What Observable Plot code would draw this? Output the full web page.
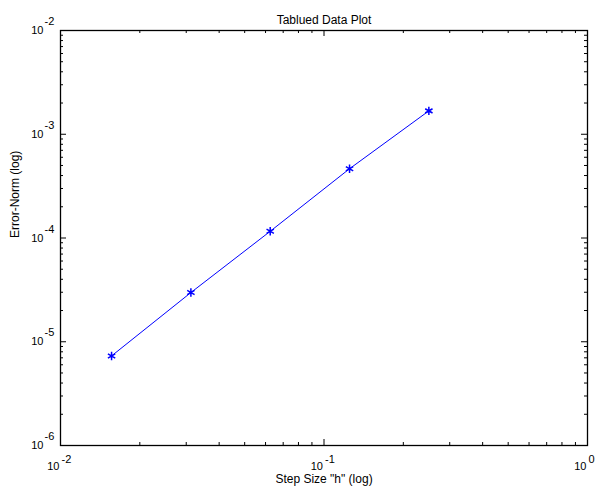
<!DOCTYPE html>
<html><head><meta charset="utf-8">
<script src="https://cdn.jsdelivr.net/npm/d3@7"></script>
<script src="https://cdn.jsdelivr.net/npm/@observablehq/plot@0.6"></script>
<style>body{margin:0;background:#fff}</style>
</head><body><div id="chart"></div>
<script>
const stepSize = [1/64, 1/32, 1/16, 1/8, 1/4];
const errorNorm = [7.3e-6, 2.98e-5, 1.16e-4, 4.65e-4, 1.68e-3];
const xMajor = [1e-2, 1e-1, 1e0];
const xExponents = ["-2", "-1", "0"];
const yMajor = [1e-6, 1e-5, 1e-4, 1e-3, 1e-2];
const yExponents = ["-6", "-5", "-4", "-3", "-2"];
const title = "Tablued Data Plot";
const xLabel = "Step Size \"h\" (log)";
const yLabel = "Error-Norm (log)";

const W = 597, H = 491, ML = 60, MR = 10, MT = 30, MB = 46;
const FW = W - ML - MR, FH = H - MT - MB;

const data = stepSize.map((h, i) => ({h, e: errorNorm[i]}));
const minorOf = (majors) => majors.slice(0, -1).flatMap(m => [2,3,4,5,6,7,8,9].map(k => k * m));
const xMinor = minorOf(xMajor);
const yMinor = minorOf(yMajor);
const X0 = xMajor[0], X1 = xMajor[xMajor.length - 1];
const Y0 = yMajor[0], Y1 = yMajor[yMajor.length - 1];
const font = "Liberation Sans, Arial, Helvetica, sans-serif";

const ticksX = (vals, len) => [
  Plot.tickX(vals, {x: d => d, insetTop: FH - len, stroke: "black", strokeWidth: 1}),
  Plot.tickX(vals, {x: d => d, insetBottom: FH - len, stroke: "black", strokeWidth: 1})
];
const ticksY = (vals, len) => [
  Plot.tickY(vals, {y: d => d, insetRight: FW - len, stroke: "black", strokeWidth: 1}),
  Plot.tickY(vals, {y: d => d, insetLeft: FW - len, stroke: "black", strokeWidth: 1})
];

const chart = Plot.plot({
  width: W, height: H,
  marginLeft: ML, marginRight: MR, marginTop: MT, marginBottom: MB,
  style: {fontFamily: font, fontSize: "11px", background: "#fff", color: "black"},
  x: {type: "log", domain: [X0, X1], axis: null},
  y: {type: "log", domain: [Y0, Y1], axis: null},
  marks: [
    ...ticksX(xMajor, 6), ...ticksX(xMinor, 3),
    ...ticksY(yMajor, 6), ...ticksY(yMinor, 3),
    Plot.frame({stroke: "black", strokeWidth: 1.3}),
    Plot.text(xMajor, {x: d => d, y: () => Y0, text: () => "10", dy: 21, dx: -1, textAnchor: "end", fontSize: 11}),
    Plot.text(xMajor, {x: d => d, y: () => Y0, text: (d, i) => xExponents[i], dy: 14, dx: 1, textAnchor: "start", fontSize: 11}),
    Plot.text(yMajor, {x: () => X0, y: d => d, text: () => "10", dy: 0, dx: -17, textAnchor: "end", fontSize: 11}),
    Plot.text(yMajor, {x: () => X0, y: d => d, text: (d, i) => yExponents[i], dy: -9, dx: -16, textAnchor: "start", fontSize: 11}),
    Plot.line(data, {x: "h", y: "e", stroke: "#0000ff", strokeWidth: 1}),
    Plot.dot(data, {x: "h", y: "e", symbol: "asterisk", r: 4, stroke: "#0000ff", strokeWidth: 1.5}),
    Plot.text([title], {frameAnchor: "top", dy: -15, text: d => d, fontSize: 12}),
    Plot.text([xLabel], {frameAnchor: "bottom", dy: 37, text: d => d, fontSize: 12}),
    Plot.text([yLabel], {frameAnchor: "left", dx: -45, rotate: -90, text: d => d, fontSize: 12})
  ]
});
document.getElementById("chart").appendChild(chart);
</script>
</body></html>
